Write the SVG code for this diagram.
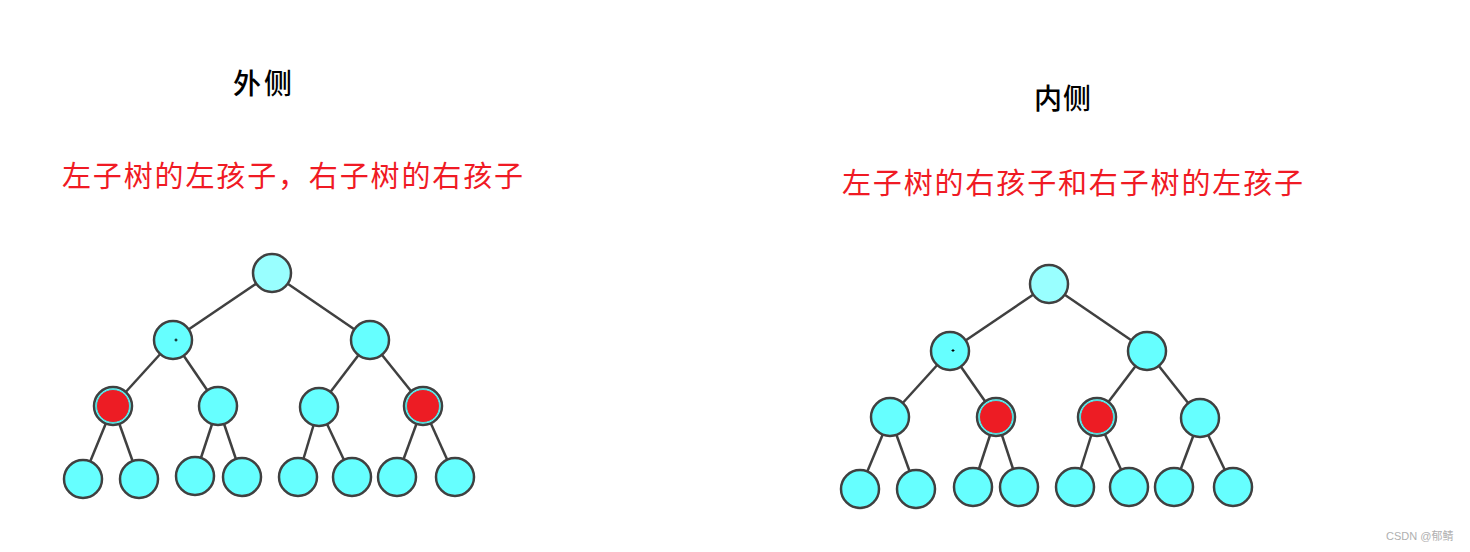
<svg xmlns="http://www.w3.org/2000/svg" width="1470" height="552" viewBox="0 0 1470 552">
<style>
.title{font-family:"Noto Sans CJK SC","Noto Sans",sans-serif;font-size:28px;fill:#000;font-weight:500}
.red{font-family:"Noto Sans CJK SC","Noto Sans",sans-serif;font-size:29px;fill:#f01a24}
.wm{font-family:"Liberation Sans","Noto Sans CJK SC",sans-serif;font-size:11px;fill:#b0b0b0}
.e{stroke:#404040;stroke-width:2.5;fill:none}
.n{fill:#66ffff;stroke:#404040;stroke-width:2.5}
.root{fill:#99ffff;stroke:#404040;stroke-width:2.5}
.hot{fill:#ed1c24;stroke:#4ae0e0;stroke-width:1}
</style>
<rect width="1470" height="552" fill="#fff"/>
<text class="title" x="233" y="94" textLength="59">外侧</text>
<text class="red" x="62" y="187" textLength="461">左子树的左孩子，右子树的右孩子</text>
<text class="title" x="1034" y="109" textLength="57">内侧</text>
<text class="red" x="842" y="194" textLength="461">左子树的右孩子和右子树的左孩子</text>
<text class="wm" x="1386" y="540">CSDN @郁鲭</text>
<g id="connectors">
<line class="e" x1="272" y1="273" x2="173" y2="340"/>
<line class="e" x1="272" y1="273" x2="370" y2="340"/>
<line class="e" x1="173" y1="340" x2="113" y2="406"/>
<line class="e" x1="173" y1="340" x2="218" y2="406"/>
<line class="e" x1="370" y1="340" x2="319" y2="407"/>
<line class="e" x1="370" y1="340" x2="423" y2="406"/>
<line class="e" x1="113" y1="406" x2="83" y2="479"/>
<line class="e" x1="113" y1="406" x2="139" y2="479"/>
<line class="e" x1="218" y1="406" x2="195" y2="476"/>
<line class="e" x1="218" y1="406" x2="242" y2="477"/>
<line class="e" x1="319" y1="407" x2="298" y2="477"/>
<line class="e" x1="319" y1="407" x2="352" y2="477"/>
<line class="e" x1="423" y1="406" x2="397" y2="477"/>
<line class="e" x1="423" y1="406" x2="455" y2="477"/>
<line class="e" x1="1049" y1="284" x2="950" y2="351"/>
<line class="e" x1="1049" y1="284" x2="1147" y2="351"/>
<line class="e" x1="950" y1="351" x2="890" y2="417"/>
<line class="e" x1="950" y1="351" x2="996" y2="417"/>
<line class="e" x1="1147" y1="351" x2="1097" y2="417"/>
<line class="e" x1="1147" y1="351" x2="1200" y2="418"/>
<line class="e" x1="890" y1="417" x2="860" y2="489"/>
<line class="e" x1="890" y1="417" x2="916" y2="489"/>
<line class="e" x1="996" y1="417" x2="973" y2="487"/>
<line class="e" x1="996" y1="417" x2="1019" y2="487"/>
<line class="e" x1="1097" y1="417" x2="1075" y2="487"/>
<line class="e" x1="1097" y1="417" x2="1129" y2="487"/>
<line class="e" x1="1200" y1="418" x2="1174" y2="487"/>
<line class="e" x1="1200" y1="418" x2="1233" y2="487"/>
</g>
<g id="L-root"><circle class="root" cx="272" cy="273" r="19"/></g>
<g id="L-a"><circle class="n" cx="173" cy="340" r="19"/><path d="M174.5 340h3M176 338.5v3" stroke="#000" stroke-width="1"/></g>
<g id="L-b"><circle class="n" cx="370" cy="340" r="19"/></g>
<g id="L-c"><circle class="n" cx="113" cy="406" r="19"/><circle class="hot" cx="113" cy="406" r="16.5"/></g>
<g id="L-d"><circle class="n" cx="218" cy="406" r="19"/></g>
<g id="L-e"><circle class="n" cx="319" cy="407" r="19"/></g>
<g id="L-f"><circle class="n" cx="423" cy="406" r="19"/><circle class="hot" cx="423" cy="406" r="16.5"/></g>
<g id="L-g"><circle class="n" cx="83" cy="479" r="19"/></g>
<g id="L-h"><circle class="n" cx="139" cy="479" r="19"/></g>
<g id="L-i"><circle class="n" cx="195" cy="476" r="19"/></g>
<g id="L-j"><circle class="n" cx="242" cy="477" r="19"/></g>
<g id="L-k"><circle class="n" cx="298" cy="477" r="19"/></g>
<g id="L-l"><circle class="n" cx="352" cy="477" r="19"/></g>
<g id="L-m"><circle class="n" cx="397" cy="477" r="19"/></g>
<g id="L-n"><circle class="n" cx="455" cy="477" r="19"/></g>
<g id="R-root"><circle class="root" cx="1049" cy="284" r="19"/></g>
<g id="R-a"><circle class="n" cx="950" cy="351" r="19"/><path d="M951.5 350.5h3M953 349v3" stroke="#000" stroke-width="1"/></g>
<g id="R-b"><circle class="n" cx="1147" cy="351" r="19"/></g>
<g id="R-c"><circle class="n" cx="890" cy="417" r="19"/></g>
<g id="R-d"><circle class="n" cx="996" cy="417" r="19"/><circle class="hot" cx="996" cy="417" r="16.5"/></g>
<g id="R-e"><circle class="n" cx="1097" cy="417" r="19"/><circle class="hot" cx="1097" cy="417" r="16.5"/></g>
<g id="R-f"><circle class="n" cx="1200" cy="418" r="19"/></g>
<g id="R-g"><circle class="n" cx="860" cy="489" r="19"/></g>
<g id="R-h"><circle class="n" cx="916" cy="489" r="19"/></g>
<g id="R-i"><circle class="n" cx="973" cy="487" r="19"/></g>
<g id="R-j"><circle class="n" cx="1019" cy="487" r="19"/></g>
<g id="R-k"><circle class="n" cx="1075" cy="487" r="19"/></g>
<g id="R-l"><circle class="n" cx="1129" cy="487" r="19"/></g>
<g id="R-m"><circle class="n" cx="1174" cy="487" r="19"/></g>
<g id="R-n"><circle class="n" cx="1233" cy="487" r="19"/></g>
</svg>
